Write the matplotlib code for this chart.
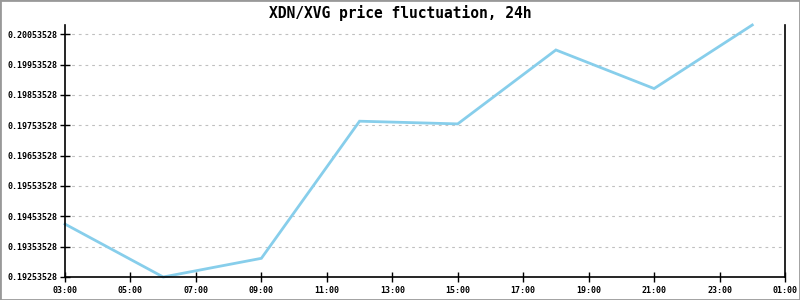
import matplotlib
matplotlib.use("Agg")
import matplotlib.pyplot as plt
import matplotlib.dates as mdates
from matplotlib.ticker import FuncFormatter, MultipleLocator
from matplotlib.patches import Rectangle
import pandas as pd

times = ["2024-01-01 03:00", "2024-01-01 06:00", "2024-01-01 09:00", "2024-01-01 12:00",
         "2024-01-01 15:00", "2024-01-01 18:00", "2024-01-01 21:00", "2024-01-02 00:00"]
prices = [0.194280, 0.19253528, 0.193151, 0.197671, 0.197582, 0.200019, 0.198747, 0.200842]
title = "XDN/XVG price fluctuation, 24h"
y_base = 0.19253528
y_step = 0.001
x_start = "2024-01-01 03:00"
x_end = "2024-01-02 01:00"

t = pd.to_datetime(times)
fig = plt.figure(figsize=(8, 3), dpi=100)
ax = fig.add_axes([65/800, 1-277/300, 720/800, 252/300])
ax.plot(t, prices, color="#87CEEB", lw=2.0, solid_joinstyle="miter", clip_on=False)
ax.set_xlim(pd.Timestamp(x_start), pd.Timestamp(x_end))
ax.set_ylim(min(prices), max(prices))

ax.xaxis.set_major_locator(mdates.HourLocator(byhour=range(1, 24, 2)))
ax.xaxis.set_major_formatter(mdates.DateFormatter("%H:%M"))
ax.yaxis.set_major_locator(MultipleLocator(y_step, offset=y_base % y_step))
ax.yaxis.set_major_formatter(FuncFormatter(lambda v, p: f"{v:.8f}"))

mono = "DejaVu Sans Mono"
for lab in ax.get_xticklabels() + ax.get_yticklabels():
    lab.set_family(mono)
    lab.set_fontsize(6)
    lab.set_fontweight("bold")
ax.tick_params(axis="both", direction="inout", length=7, width=1, pad=2, colors="black")
ax.tick_params(axis="x", pad=3)

ax.grid(axis="y", color="#c0c0c0", linestyle=(0, (2.5, 3.5)), lw=0.8)
ax.grid(axis="x", visible=False)
ax.spines["top"].set_visible(False)
for s in ["left", "right", "bottom"]:
    ax.spines[s].set_linewidth(1.2)

fig.text(0.5, 1-13/300, title, ha="center", va="center", family=mono,
         fontsize=10.5, fontweight="bold")
fig.patches.append(Rectangle((0, 0), 1, 1, transform=fig.transFigure, fill=False,
                             edgecolor="#999999", lw=2))
fig.savefig("out.png", dpi=100)
